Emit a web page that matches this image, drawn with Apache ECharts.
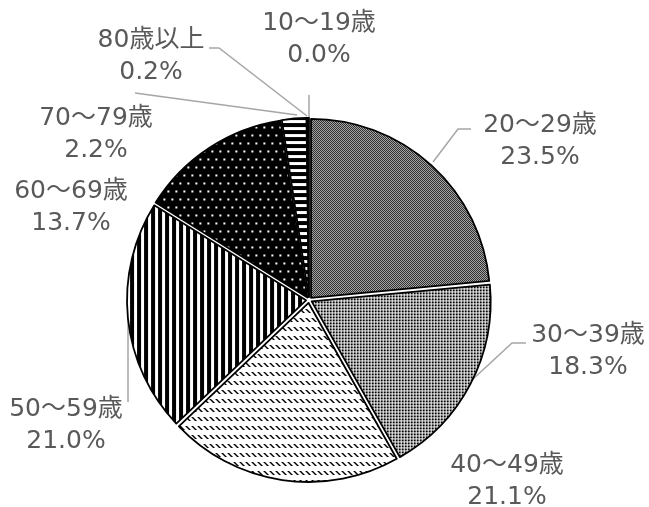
<!DOCTYPE html>
<html>
<head>
<meta charset="utf-8">
<script src="https://cdn.jsdelivr.net/npm/echarts@6/dist/echarts.min.js"></script>
<style>
  html, body { margin: 0; padding: 0; background: #fff; }
  #chart { width: 649px; height: 507px; }
</style>
</head>
<body>
<div id="chart"></div>
<script>
// Age groups and their shares (%)
const categories = ['10～19歳', '20～29歳', '30～39歳', '40～49歳', '50～59歳', '60～69歳', '70～79歳', '80歳以上'];
const shares = [0.0, 23.5, 18.3, 21.1, 21.0, 13.7, 2.2, 0.2];

// Centre of each two-line label block, and its leader line (null = none)
const labelPos = [
  [319, 39], [540, 141], [588, 351], [507, 481],
  [66, 425], [71, 207], [96, 134], [151, 56]
];
const leaders = [
  [[309, 118], [309, 95]],
  [[433, 162], [458, 129], [471, 129]],
  [[472, 380], [512, 343], [526, 343]],
  null,
  [[128, 318], [128, 402]],
  null,
  [[297, 115], [135, 93]],
  [[307, 116], [219, 48], [209, 48]]
];

// Monochrome hatch fills
function tile(w, h, draw) {
  const c = document.createElement('canvas');
  c.width = w; c.height = h;
  const g = c.getContext('2d');
  g.fillStyle = '#fff';
  g.fillRect(0, 0, w, h);
  g.fillStyle = '#000';
  draw(g, w, h);
  return { image: c, repeat: 'repeat' };
}
const fills = [
  tile(2, 2, () => {}),
  // fine checkerboard
  tile(2, 2, g => {
    g.fillRect(0, 0, 2, 2);
    g.fillStyle = '#d6d6d6';
    g.fillRect(1, 0, 1, 1);
    g.fillRect(0, 1, 1, 1);
  }),
  // small dots
  tile(3, 3, g => { g.fillRect(0, 0, 2, 2); }),
  // dashed downward diagonal
  tile(6, 9, g => { for (let i = 0; i < 4; i++) g.fillRect(i, i, 2, 1); }),
  // wide vertical stripes
  tile(7, 7, g => { g.fillRect(0, 0, 4, 7); }),
  // white dots on black
  tile(8, 16, g => {
    g.fillRect(0, 0, 8, 16);
    g.fillStyle = '#fff';
    g.fillRect(1, 1, 2, 2);
    g.fillRect(5, 9, 2, 2);
  }),
  // wide horizontal stripes
  tile(7, 7, g => { g.fillRect(0, 0, 7, 4); }),
  tile(2, 2, g => { g.fillRect(0, 0, 2, 2); })
];

const data = categories.map((name, i) => ({
  name,
  value: shares[i],
  selected: true,
  itemStyle: {
    color: fills[i],
    borderColor: '#000',
    borderWidth: shares[i] > 0 ? 1.8 : 0
  }
}));

const textColor = '#595959';
const labelFont = '25px "DejaVu Sans", "Noto Sans CJK JP", sans-serif';

const graphics = [];
categories.forEach((name, i) => {
  if (leaders[i]) {
    graphics.push({
      type: 'polyline',
      silent: true,
      shape: { points: leaders[i] },
      style: { stroke: '#a6a6a6', lineWidth: 1.5, fill: null }
    });
  }
  graphics.push({
    type: 'text',
    silent: true,
    x: labelPos[i][0],
    y: labelPos[i][1],
    style: {
      text: name + '\n' + shares[i].toFixed(1) + '%',
      font: labelFont,
      fill: textColor,
      lineHeight: 32,
      align: 'center',
      verticalAlign: 'middle'
    }
  });
});

const chart = echarts.init(document.getElementById('chart'), null, { renderer: 'canvas' });
chart.setOption({
  animation: false,
  backgroundColor: '#fff',
  series: [{
    type: 'pie',
    center: [309, 300],
    radius: 179,
    startAngle: 90,
    clockwise: true,
    selectedMode: 'multiple',
    selectedOffset: 3,
    emphasis: { disabled: true },
    label: { show: false },
    labelLine: { show: false },
    data
  }],
  graphic: graphics
});
</script>
</body>
</html>
